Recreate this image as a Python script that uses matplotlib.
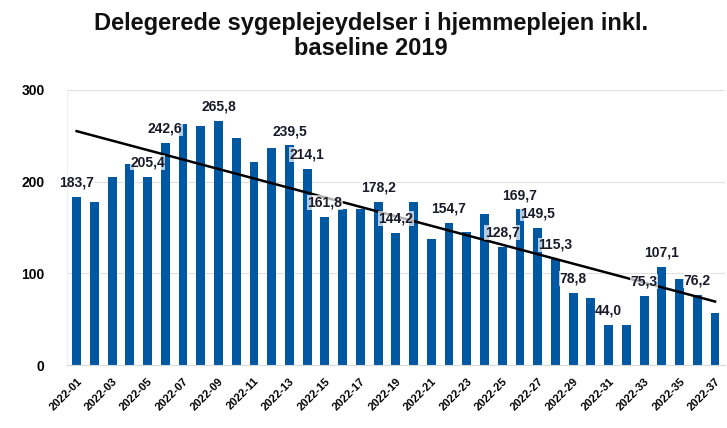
import numpy as np
import matplotlib
matplotlib.use("Agg")
import matplotlib.pyplot as plt

plt.rcParams['font.family'] = ['Liberation Sans', 'DejaVu Sans']

weeks = [f"2022-{i:02d}" for i in range(1, 38)]
values = [183.7, 178.3, 204.7, 219.4, 205.4, 242.6, 262.7, 261.0, 265.8, 248.0,
          221.3, 236.3, 239.5, 214.1, 161.8, 169.8, 169.8, 178.2, 144.2, 178.2,
          137.8, 154.7, 145.2, 164.3, 128.7, 169.7, 149.5, 115.3, 78.8, 73.5,
          44.0, 44.0, 75.3, 107.1, 93.7, 76.2, 57.0]
# bars that carry a data label in the original
labelled = [1, 5, 6, 9, 13, 14, 15, 18, 19, 22, 25, 26, 27, 28, 29, 31, 33, 34, 36]

x = np.arange(len(weeks))
fig = plt.figure(figsize=(7.27, 4.28), dpi=100)
ax = fig.add_axes([0.092, 0.147, 0.905, 0.643])

ax.bar(x, values, width=0.5, color='#0058A2', zorder=2)

# linear trend line
k, m = np.polyfit(x, values, 1)
ax.plot(x, k * x + m, color='black', lw=1.8, zorder=3)

for w in labelled:
    i = w - 1
    txt = f"{values[i]:.1f}".replace('.', ',')
    ax.text(i, values[i] + 8, txt, ha='center', va='bottom', fontsize=10,
            fontweight='bold', color='#1a1a2a', zorder=4,
            bbox=dict(boxstyle='square,pad=0.03', fc='white', ec='none', alpha=0.7))

ax.set_xlim(-0.55, len(weeks) - 0.45)
ax.set_ylim(0, 300)
ax.set_yticks([0, 100, 200, 300])
ax.set_yticklabels(['0', '100', '200', '300'], fontsize=10, fontweight='bold')
ax.yaxis.grid(True, color='#E0E0E0', lw=0.8, zorder=0)
ax.set_xticks(x[::2])
ax.set_xticklabels(weeks[::2], rotation=45, ha='right', rotation_mode='anchor',
                   fontsize=8, fontweight='bold')
ax.tick_params(length=0, pad=8)
ax.tick_params(axis='y', pad=16)
for s in ['top', 'right']:
    ax.spines[s].set_visible(False)
ax.spines['left'].set_color('#EEEEEE')
ax.spines['bottom'].set_color('#D9D9D9')

fig.suptitle("Delegerede sygeplejeydelser i hjemmeplejen inkl.\nbaseline 2019",
             fontsize=17, fontweight='bold', y=0.972, va='top', x=0.51,
             linespacing=1.1, color='#111111')

fig.savefig('out.png', dpi=100)
